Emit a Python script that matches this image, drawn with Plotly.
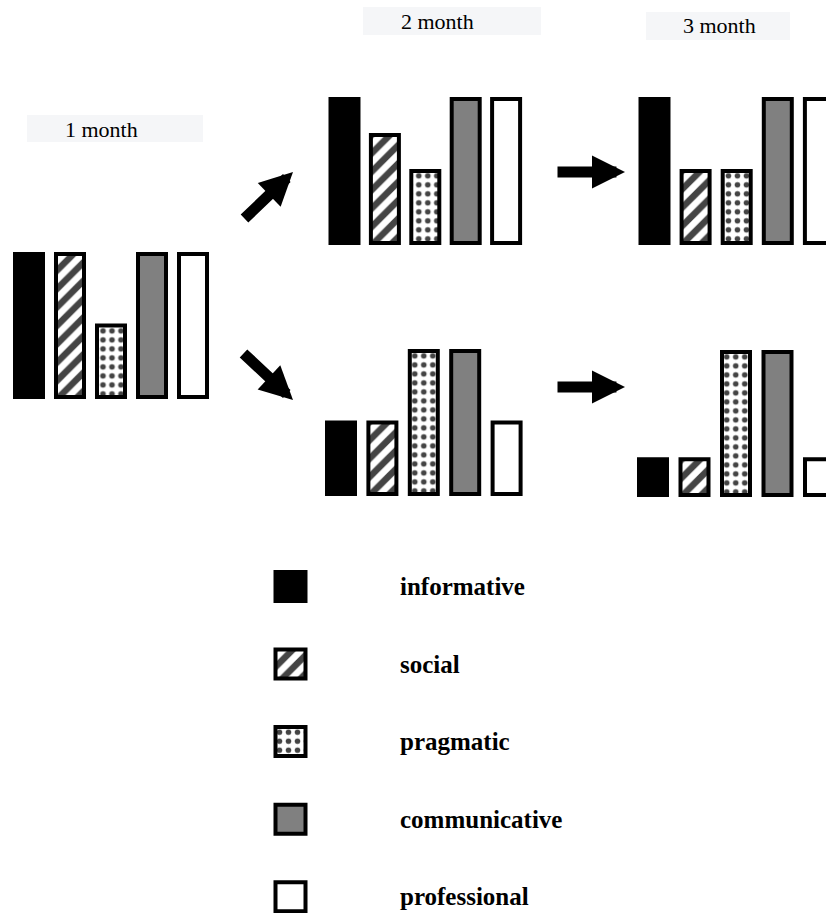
import plotly.graph_objects as go

W, H = 826, 913

# ---------------- data ----------------
categories = ["informative", "social", "pragmatic", "communicative", "professional"]
months = ["1 month", "2 month", "3 month"]
month1 = [100, 100, 50, 100, 100]
month2_up = [100, 75, 50, 100, 100]
month3_up = [100, 50, 50, 100, 100]
month2_down = [50, 50, 100, 100, 50]
month3_down = [25, 25, 100, 100, 25]

# ---------------- styles ----------------
fill_colors = ["black", "white", "white", "#808080", "white"]
pattern_shapes = ["", "/", ".", "", ""]
pattern_sizes = [8, 13, 9, 8, 8]
pattern_solidity = [0.3, 0.5, 0.3, 0.3, 0.3]
LW = 4


def PX(x):
    return x / W


def PY(y):
    return 1 - y / H


def marker_style():
    n = len(categories)
    return dict(color=fill_colors, line=dict(color="black", width=LW),
                pattern=dict(shape=pattern_shapes, fgcolor=["black"] * n,
                             bgcolor=fill_colors, fgopacity=1, fillmode="overlay",
                             size=pattern_sizes, solidity=pattern_solidity))


fig = go.Figure()

# group layout: (values, first center px, pitch px, outer bottom px, outer top px)
groups = [
    (month1, 29.0, 41.0, 399, 252),
    (month2_up, 344.5, 40.4, 245, 97),
    (month3_up, 654.5, 41.1, 245, 97),
    (month2_down, 341.0, 41.4, 496, 349),
    (month3_down, 653.0, 41.5, 497, 350),
]

axis_common = dict(visible=False, showgrid=False, zeroline=False, fixedrange=True)

for i, (vals, c0, pitch, yb, yt) in enumerate(groups, start=1):
    xs = "" if i == 1 else str(i)
    left = c0 - 0.5 * pitch
    right = c0 + 4.5 * pitch
    xr = [-0.5, 4.5]
    if right > W:
        xr = [-0.5, -0.5 + (W - left) / pitch]
        right = W
    y0 = yb - LW / 2
    y100 = yt + LW / 2
    ppu = (y0 - y100) / 100
    pad = 6
    fig.add_trace(go.Bar(
        x=list(range(len(categories))), y=vals, width=(32 - LW) / pitch,
        marker=marker_style(),
        xaxis="x" + xs, yaxis="y" + xs, showlegend=False, hoverinfo="skip",
    ))
    fig.layout["xaxis" + xs] = dict(axis_common, domain=[PX(left), PX(right)], range=xr,
                                    anchor="y" + xs)
    fig.layout["yaxis" + xs] = dict(axis_common, domain=[PY(y0 + pad * ppu), PY(y100 - pad * ppu)],
                                    range=[-pad, 100 + pad], anchor="x" + xs)

# ---------------- legend as bar subplot ----------------
lc0, lpitch = 586.5, 77.55
fill_l, fill_r = 275.5, 305.5
lppu = fill_r - fill_l
dom_l, dom_r = 266, 314
fig.add_trace(go.Bar(
    y=categories, x=[1] * len(categories), orientation="h", width=(33 - LW) / lpitch,
    marker=marker_style(),
    xaxis="x6", yaxis="y6", showlegend=False, hoverinfo="skip",
))
fig.layout["xaxis6"] = dict(axis_common, domain=[PX(dom_l), PX(dom_r)],
                            range=[(dom_l - fill_l) / lppu, (dom_r - fill_l) / lppu], anchor="y6")
ltop = lc0 - 0.5 * lpitch
lbot = min(H, lc0 + 4.5 * lpitch)
fig.layout["yaxis6"] = dict(
    type="category", categoryarray=categories, anchor="x6", side="right",
    domain=[PY(lbot), PY(ltop)], range=[(lbot - lc0) / lpitch, -0.5],
    showgrid=False, zeroline=False, showline=False, ticks="", fixedrange=True,
    ticklabelstandoff=85,
    tickfont=dict(family="Liberation Serif", size=25, color="black", weight="bold"),
)

# ---------------- month labels ----------------
boxes = [(27, 203, 115, 142), (363, 541, 7, 35), (646, 790, 12, 40)]
text_centers = [(101, 129), (437, 21), (719, 26)]
shapes = []
annotations = []
for m, (x0, x1, y0, y1), (tx, ty) in zip(months, boxes, text_centers):
    shapes.append(dict(type="rect", xref="paper", yref="paper", x0=PX(x0), x1=PX(x1),
                       y0=PY(y1), y1=PY(y0), fillcolor="#f5f6f8", line=dict(width=0), layer="below"))
    annotations.append(dict(text=m, xref="paper", yref="paper", x=PX(tx), y=PY(ty),
                            showarrow=False, xanchor="center", yanchor="middle",
                            font=dict(family="Liberation Serif", size=22, color="black")))

# ---------------- arrows ----------------
arrows = [((293, 172), (243, 220)), ((293, 400), (242, 352)),
          ((625, 172), (556, 172)), ((625, 387), (556, 387))]
for (hx, hy), (tx, ty) in arrows:
    annotations.append(dict(text="", xref="paper", yref="paper", x=PX(hx), y=PY(hy),
                            ax=tx - hx, ay=ty - hy, showarrow=True, arrowhead=2,
                            arrowsize=0.6, arrowwidth=11, arrowcolor="black"))

fig.update_layout(
    width=W, height=H, margin=dict(l=0, r=0, t=0, b=0),
    paper_bgcolor="white", plot_bgcolor="rgba(0,0,0,0)",
    shapes=shapes, annotations=annotations, showlegend=False,
)

fig.write_html("out.html", config={"displayModeBar": False},
               post_script="document.body.style.margin='0';document.body.style.overflow='hidden';")
